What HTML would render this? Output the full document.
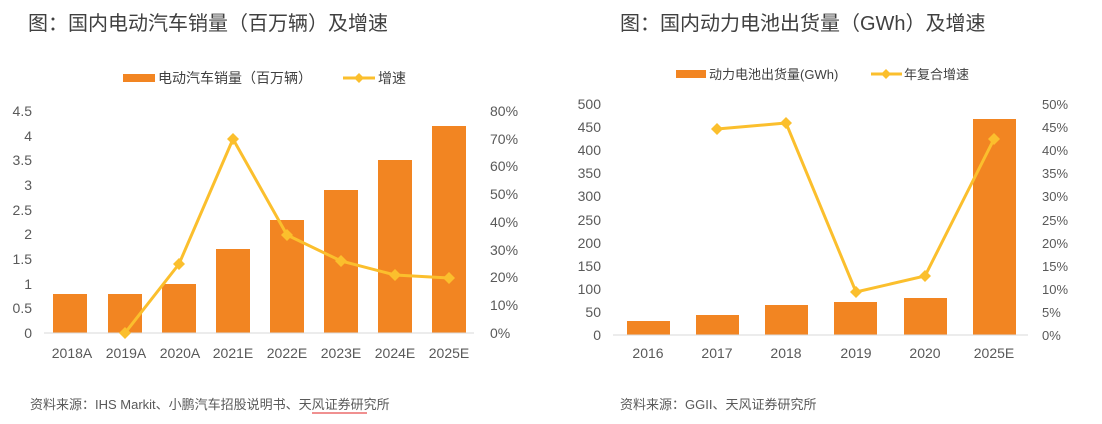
<!DOCTYPE html><html><head><meta charset="utf-8"><style>
body{margin:0;background:#fff;width:1102px;height:419px;overflow:hidden;font-family:"Liberation Sans","Noto Sans CJK SC",sans-serif}
</style></head><body>
<svg width="1102" height="419" xmlns="http://www.w3.org/2000/svg" font-family="Liberation Sans, Noto Sans CJK SC, sans-serif">
<text x="28" y="30" font-size="20" fill="#404040">图：国内电动汽车销量（百万辆）及增速</text>
<text x="620" y="30" font-size="20" fill="#404040">图：国内动力电池出货量（GWh）及增速</text>
<rect x="123" y="74" width="32" height="8" fill="#F28522"/>
<text x="158" y="83" font-size="14" fill="#404040">电动汽车销量（百万辆）</text>
<line x1="343" y1="78" x2="375" y2="78" stroke="#FBBF2D" stroke-width="3"/>
<path d="M359 73l5 5-5 5-5-5z" fill="#FBBF2D"/>
<text x="378" y="83" font-size="14" fill="#404040">增速</text>
<g font-size="14" fill="#595959" text-anchor="end">
<text x="32" y="338">0</text><text x="32" y="313">0.5</text><text x="32" y="289">1</text><text x="32" y="264">1.5</text><text x="32" y="239">2</text><text x="32" y="215">2.5</text><text x="32" y="190">3</text><text x="32" y="165">3.5</text><text x="32" y="141">4</text><text x="32" y="116">4.5</text>
</g>
<g font-size="14" fill="#595959">
<text x="490" y="338">0%</text><text x="490" y="310">10%</text><text x="490" y="282">20%</text><text x="490" y="255">30%</text><text x="490" y="227">40%</text><text x="490" y="199">50%</text><text x="490" y="171">60%</text><text x="490" y="144">70%</text><text x="490" y="116">80%</text>
</g>
<g fill="#F28522">
<rect x="53" y="294" width="34" height="39"/><rect x="108" y="294" width="34" height="39"/><rect x="162" y="284" width="34" height="49"/><rect x="216" y="249" width="34" height="84"/><rect x="270" y="220" width="34" height="113"/><rect x="324" y="190" width="34" height="143"/><rect x="378" y="160" width="34" height="173"/><rect x="432" y="126" width="34" height="207"/>
</g>
<line x1="44" y1="333" x2="474" y2="333" stroke="#d9d9d9" stroke-width="1"/>
<polyline points="125,333 179,264 233,139 287,235 341,261 395,275 449,278" fill="none" stroke="#FBBF2D" stroke-width="3"/>
<g fill="#FBBF2D">
<path d="M125 327l6 6-6 6-6-6z"/><path d="M179 258l6 6-6 6-6-6z"/><path d="M233 133l6 6-6 6-6-6z"/><path d="M287 229l6 6-6 6-6-6z"/><path d="M341 255l6 6-6 6-6-6z"/><path d="M395 269l6 6-6 6-6-6z"/><path d="M449 272l6 6-6 6-6-6z"/>
</g>
<g font-size="14" fill="#595959" text-anchor="middle">
<text x="72" y="358">2018A</text><text x="126" y="358">2019A</text><text x="180" y="358">2020A</text><text x="233" y="358">2021E</text><text x="287" y="358">2022E</text><text x="341" y="358">2023E</text><text x="395" y="358">2024E</text><text x="449" y="358">2025E</text>
</g>
<rect x="676" y="70" width="30" height="8" fill="#F28522"/>
<text x="709" y="79" font-size="13" fill="#404040">动力电池出货量(GWh)</text>
<line x1="871" y1="74" x2="902" y2="74" stroke="#FBBF2D" stroke-width="3"/>
<path d="M886 69l5 5-5 5-5-5z" fill="#FBBF2D"/>
<text x="904" y="79" font-size="13" fill="#404040">年复合增速</text>
<g font-size="14" fill="#595959" text-anchor="end">
<text x="601" y="340">0</text><text x="601" y="317">50</text><text x="601" y="294">100</text><text x="601" y="271">150</text><text x="601" y="248">200</text><text x="601" y="225">250</text><text x="601" y="201">300</text><text x="601" y="178">350</text><text x="601" y="155">400</text><text x="601" y="132">450</text><text x="601" y="109">500</text>
</g>
<g font-size="13" fill="#595959">
<text x="1042" y="340">0%</text><text x="1042" y="317">5%</text><text x="1042" y="294">10%</text><text x="1042" y="271">15%</text><text x="1042" y="248">20%</text><text x="1042" y="225">25%</text><text x="1042" y="201">30%</text><text x="1042" y="178">35%</text><text x="1042" y="155">40%</text><text x="1042" y="132">45%</text><text x="1042" y="109">50%</text>
</g>
<g fill="#F28522">
<rect x="627" y="321" width="43" height="14"/><rect x="696" y="315" width="43" height="20"/><rect x="765" y="305" width="43" height="30"/><rect x="834" y="302" width="43" height="33"/><rect x="904" y="298" width="43" height="37"/><rect x="973" y="119" width="43" height="216"/>
</g>
<line x1="613" y1="335" x2="1028" y2="335" stroke="#d9d9d9" stroke-width="1"/>
<polyline points="717,129 786,123 856,292 925,276 994,139" fill="none" stroke="#FBBF2D" stroke-width="3"/>
<g fill="#FBBF2D">
<path d="M717 123l6 6-6 6-6-6z"/><path d="M786 117l6 6-6 6-6-6z"/><path d="M856 286l6 6-6 6-6-6z"/><path d="M925 270l6 6-6 6-6-6z"/><path d="M994 133l6 6-6 6-6-6z"/>
</g>
<g font-size="14" fill="#595959" text-anchor="middle">
<text x="648" y="358">2016</text><text x="717" y="358">2017</text><text x="786" y="358">2018</text><text x="856" y="358">2019</text><text x="925" y="358">2020</text><text x="994" y="358">2025E</text>
</g>
<text x="30" y="409" font-size="13" fill="#595959">资料来源：IHS Markit、小鹏汽车招股说明书、天风证券研究所</text>
<line x1="312" y1="413" x2="367" y2="413" stroke="#e02020" stroke-width="1"/>
<text x="620" y="409" font-size="13" fill="#595959">资料来源：GGII、天风证券研究所</text>
</svg>
</body></html>
